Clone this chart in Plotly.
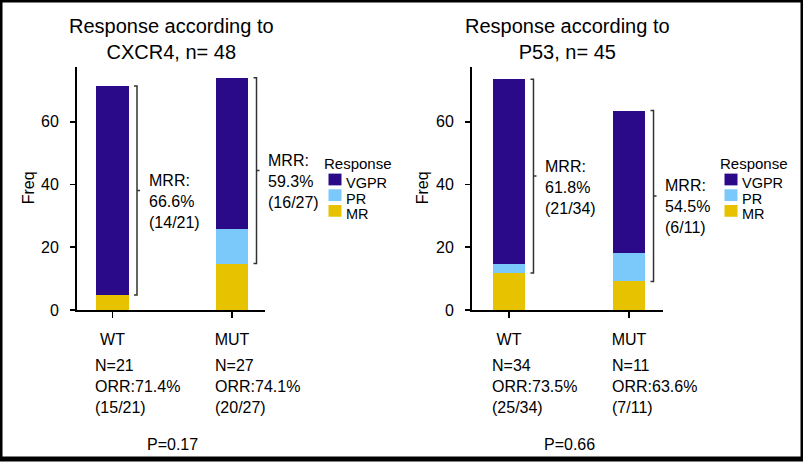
import plotly.graph_objects as go

W, H = 803, 468

# ---------------- data ----------------
categories = ["WT", "MUT"]
responses = ["VGPR", "PR", "MR"]
colors = {"VGPR": "#2B0A8A", "PR": "#7BC8FA", "MR": "#E6C200"}

cxcr4_mr = [4.8, 14.8]
cxcr4_pr = [0.0, 11.1]
cxcr4_vgpr = [66.6, 48.2]

p53_mr = [11.8, 9.1]
p53_pr = [2.9, 9.1]
p53_vgpr = [58.9, 45.4]

titles = ["Response according to<br>CXCR4, n= 48", "Response according to<br>P53, n= 45"]
n_labels_cxcr4 = ["N=21<br>ORR:71.4%<br>(15/21)", "N=27<br>ORR:74.1%<br>(20/27)"]
n_labels_p53 = ["N=34<br>ORR:73.5%<br>(25/34)", "N=11<br>ORR:63.6%<br>(7/11)"]
mrr_cxcr4 = ["MRR:<br>66.6%<br>(14/21)", "MRR:<br>59.3%<br>(16/27)"]
mrr_p53 = ["MRR:<br>61.8%<br>(21/34)", "MRR:<br>54.5%<br>(6/11)"]
p_values = ["P=0.17", "P=0.66"]
y_ticks = [0, 20, 40, 60]
y_label = "Freq"
legend_title = "Response"

panels = [
    dict(mr=cxcr4_mr, pr=cxcr4_pr, vgpr=cxcr4_vgpr, title=titles[0],
         nlab=n_labels_cxcr4, mrr=mrr_cxcr4, p=p_values[0],
         px=(77, 265), xr=[-0.297, 1.276], freq_x=28, leg_x=325),
    dict(mr=p53_mr, pr=p53_pr, vgpr=p53_vgpr, title=titles[1],
         nlab=n_labels_p53, mrr=mrr_p53, p=p_values[1],
         px=(472, 663), xr=[-0.308, 1.283], freq_x=422, leg_x=721),
]

FONT = "Liberation Sans, Arial, Helvetica, sans-serif"
NARROW = "Liberation Sans Narrow, Arial Narrow, Liberation Sans, sans-serif"

fig = go.Figure()
annotations = []
shapes = []

def py(pix):
    return 1 - pix / H

def pxp(pix):
    return pix / W

BAR_W = 0.27
x_pos = [0, 1]

for i, p in enumerate(panels):
    sfx = "" if i == 0 else str(i + 1)
    xa, ya = "x" + sfx, "y" + sfx
    for name, vals in (("MR", p["mr"]), ("PR", p["pr"]), ("VGPR", p["vgpr"])):
        fig.add_trace(go.Bar(
            x=x_pos, y=vals, name=name, width=BAR_W,
            marker=dict(color=colors[name], line=dict(width=0)),
            xaxis=xa, yaxis=ya, showlegend=False, hoverinfo="skip"))

    fig.layout["xaxis" + sfx] = dict(
        domain=[pxp(p["px"][0]), pxp(p["px"][1])], range=p["xr"], anchor=ya,
        tickvals=x_pos, ticktext=categories, showline=True, linewidth=2,
        linecolor="black", ticks="outside", ticklen=6, tickwidth=1.5,
        tickcolor="black", tickfont=dict(size=16, color="black"),
        showgrid=False, zeroline=False, ticklabelstandoff=8)
    fig.layout["yaxis" + sfx] = dict(
        domain=[py(316), py(68)], range=[0, 77.6], anchor=xa,
        tickvals=y_ticks, showline=True, linewidth=2, linecolor="black",
        ticks="outside", ticklen=5, tickwidth=1.5, tickcolor="black",
        tickfont=dict(size=16, color="black"), showgrid=False,
        zeroline=False, ticklabelstandoff=8)

    # title
    annotations.append(dict(text=p["title"], xref=xa + " domain", x=0.5,
                            yref="paper", y=py(40), xanchor="center",
                            yanchor="middle", showarrow=False,
                            font=dict(size=20, color="black")))
    # y label
    annotations.append(dict(text=y_label, xref="paper", x=pxp(p["freq_x"]),
                            yref="paper", y=py(192), textangle=-90,
                            showarrow=False, xanchor="center", yanchor="middle",
                            font=dict(size=16, color="black", family=NARROW)))
    # per-bar texts and brackets
    for j in x_pos:
        bottom = p["mr"][j]
        top = p["mr"][j] + p["pr"][j] + p["vgpr"][j]
        mid = (top + bottom) / 2
        bx = 24.5
        shapes.append(dict(type="path", xref=xa, yref=ya, xsizemode="pixel",
                           xanchor=j,
                           path=(f"M {bx-3},{bottom} L {bx},{bottom} L {bx},{top} "
                                 f"L {bx-3},{top} M {bx},{mid} L {bx+3},{mid}"),
                           line=dict(color="#333333", width=1.5)))
        annotations.append(dict(text=p["mrr"][j], xref=xa, x=j, xshift=34,
                                yref=ya, y=mid, yshift=-11, xanchor="left",
                                yanchor="middle", align="left", showarrow=False,
                                font=dict(size=16, color="black")))
        annotations.append(dict(text=p["nlab"][j], xref=xa, x=j - BAR_W / 2,
                                xshift=-3, yref="paper", y=py(394),
                                xanchor="left", yanchor="middle", align="left",
                                showarrow=False, font=dict(size=16, color="black")))
    # p value
    annotations.append(dict(text=p["p"], xref=xa, x=0.5, yref="paper", y=py(453),
                            xanchor="center", yanchor="middle", showarrow=False,
                            font=dict(size=16, color="black")))
    # legend (manual)
    lx = p["leg_x"]
    annotations.append(dict(text=legend_title, xref="paper", x=pxp(lx - 2),
                            yref="paper", y=py(167), xanchor="left",
                            yanchor="middle", showarrow=False, borderpad=0,
                            font=dict(size=15, color="black")))
    for k, name in enumerate(responses):
        yc = 183 + 16 * k
        shapes.append(dict(type="rect", xref="paper", yref="paper",
                           x0=pxp(lx + 3.5), x1=pxp(lx + 16.5),
                           y0=py(yc + 6), y1=py(yc - 6),
                           fillcolor=colors[name], line=dict(width=0)))
        annotations.append(dict(text=name, xref="paper", x=pxp(lx + 20),
                                yref="paper", y=py(yc + 3.5), xanchor="left",
                                yanchor="middle", showarrow=False,
                                height=14, borderpad=0,
                                font=dict(size=14.5, color="black")))

# outer frame
shapes.append(dict(type="rect", xref="paper", yref="paper", x0=0, x1=1, y0=0, y1=1,
                   line=dict(color="black", width=5), fillcolor="rgba(0,0,0,0)"))

fig.update_layout(
    width=W, height=H, margin=dict(l=0, r=0, t=0, b=0),
    paper_bgcolor="white", plot_bgcolor="white", barmode="stack",
    font=dict(family=FONT, size=16, color="black"),
    annotations=annotations, shapes=shapes, showlegend=False)

fig.write_html("out.html", config={"displayModeBar": False, "staticPlot": True},
               post_script="document.body.style.margin='0';document.body.style.overflow='hidden';")
